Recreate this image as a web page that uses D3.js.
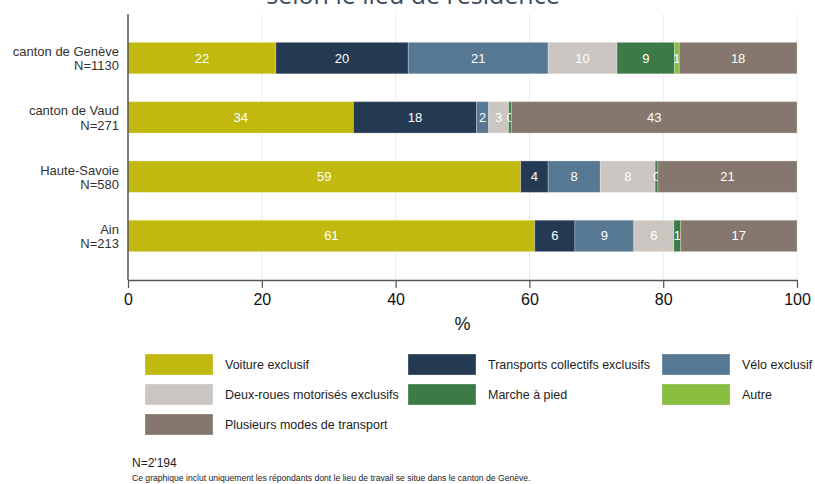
<!DOCTYPE html>
<html>
<head>
<meta charset="utf-8">
<script src="https://cdn.jsdelivr.net/npm/d3@7"></script>
<style>
  html, body { margin: 0; padding: 0; background: #fff; }
  svg { display: block; font-family: "Liberation Sans", Arial, sans-serif; }
</style>
</head>
<body>
<svg id="chart" width="815" height="484"></svg>
<script>
// Lieu de résidence (catégories) et effectifs
const regions = ["canton de Genève", "canton de Vaud", "Haute-Savoie", "Ain"];
const effectifs = ["N=1130", "N=271", "N=580", "N=213"];

// Modes de transport (séries, dans l'ordre d'empilement)
const modes = [
  "Voiture exclusif",
  "Transports collectifs exclusifs",
  "Vélo exclusif",
  "Deux-roues motorisés exclusifs",
  "Marche à pied",
  "Autre",
  "Plusieurs modes de transport"
];
const couleurs = ["#c1b90e", "#243a52", "#567893", "#cbc6c2", "#3c7a47", "#88bd40", "#85776d"];

// Parts en % par lieu de résidence, une liste par mode
const voiture     = [22.1, 33.7, 58.7, 60.8];
const collectifs  = [19.8, 18.4,  4.1,  6.0];
const velo        = [20.9,  1.8,  7.8,  8.8];
const deuxRoues   = [10.3,  3.0,  8.2,  6.0];
const marche      = [ 8.6,  0.4,  0.4,  1.0];
const autre       = [ 0.7,  0.0,  0.0,  0.0];
const plusieurs   = [17.6, 42.7, 20.8, 17.4];

const xTicks = [0, 20, 40, 60, 80, 100];

const seriesValues = [voiture, collectifs, velo, deuxRoues, marche, autre, plusieurs];

const rows = regions.map((r, i) => {
  const o = { region: r };
  modes.forEach((m, k) => { o[m] = seriesValues[k][i]; });
  return o;
});

const svg = d3.select("#chart");

const x = d3.scaleLinear().domain([0, 100]).range([128, 797]);
const y = d3.scaleBand().domain(regions).range([14, 280])
  .paddingInner(0.47).paddingOuter(0.478);
const color = d3.scaleOrdinal().domain(modes).range(couleurs);

// Titre (partie basse visible en haut du cadre)
svg.append("text")
  .attr("x", 413).attr("y", 4)
  .attr("text-anchor", "middle")
  .attr("font-family", "'Open Sans', sans-serif")
  .attr("font-size", 25)
  .attr("fill", "#3c4a5d")
  .text("selon le lieu de résidence");

// Quadrillage vertical
svg.append("g")
  .selectAll("line")
  .data(xTicks.filter(d => d > 0))
  .join("line")
  .attr("x1", d => x(d)).attr("x2", d => x(d))
  .attr("y1", 14).attr("y2", 280)
  .attr("stroke", "#e6eef1")
  .attr("stroke-width", 1);

// Barres empilées
const stack = d3.stack().keys(modes);
const layers = stack(rows);

const layerG = svg.append("g")
  .selectAll("g")
  .data(layers)
  .join("g")
  .attr("fill", d => color(d.key));

layerG.selectAll("rect")
  .data(d => d.map(s => ({ s, key: d.key })).filter(e => e.s[1] - e.s[0] > 0))
  .join("rect")
  .attr("x", d => x(d.s[0]))
  .attr("y", d => y(d.s.data.region))
  .attr("width", d => x(d.s[1]) - x(d.s[0]))
  .attr("height", y.bandwidth())
  .attr("stroke", "#ffffff")
  .attr("stroke-opacity", 0.25)
  .attr("stroke-width", 1);

// Étiquettes des valeurs
const fmt = d3.format(".0f");
layerG.selectAll("text")
  .data(d => d.map(s => ({ s, key: d.key })).filter(e => e.s[1] - e.s[0] > 0))
  .join("text")
  .attr("x", d => (x(d.s[0]) + x(d.s[1])) / 2)
  .attr("y", d => y(d.s.data.region) + y.bandwidth() / 2)
  .attr("dy", "0.35em")
  .attr("text-anchor", "middle")
  .attr("font-size", 13)
  .attr("fill", "#ffffff")
  .text(d => fmt(d.s[1] - d.s[0]));

// Axe X
const xAxis = svg.append("g")
  .attr("transform", "translate(0,280)")
  .call(d3.axisBottom(x).tickValues(xTicks).tickSize(8).tickPadding(6).tickSizeOuter(0));
xAxis.select(".domain").attr("stroke", "#555").attr("stroke-width", 1.5);
xAxis.selectAll(".tick line").attr("stroke", "#555").attr("stroke-width", 1.2);
xAxis.selectAll(".tick text")
  .attr("font-family", "'Liberation Sans', Arial, sans-serif")
  .attr("font-size", 16).attr("fill", "#111");

svg.append("text")
  .attr("x", x(50)).attr("y", 330)
  .attr("text-anchor", "middle")
  .attr("font-size", 18).attr("fill", "#111")
  .text("%");

// Axe Y (ligne et libellés)
svg.append("line")
  .attr("x1", 128).attr("x2", 128)
  .attr("y1", 14).attr("y2", 280)
  .attr("stroke", "#555").attr("stroke-width", 1.5);

const yLab = svg.append("g")
  .selectAll("text")
  .data(regions)
  .join("text")
  .attr("x", 119)
  .attr("y", d => y(d) + y.bandwidth() / 2)
  .attr("text-anchor", "end")
  .attr("font-size", 13)
  .attr("fill", "#333");
yLab.append("tspan").attr("x", 119).attr("dy", "-0.15em").text(d => d);
yLab.append("tspan").attr("x", 119).attr("dy", "1.1em").text((d, i) => effectifs[i]);

// Légende
const legPos = [
  [145, 354], [408, 354], [662, 354],
  [145, 384], [408, 384], [662, 384],
  [145, 414]
];
const leg = svg.append("g")
  .selectAll("g")
  .data(modes)
  .join("g")
  .attr("transform", (d, i) => `translate(${legPos[i][0]},${legPos[i][1]})`);
leg.append("rect")
  .attr("width", 68).attr("height", 21)
  .attr("fill", d => color(d))
  .attr("stroke", "#ffffff").attr("stroke-opacity", 0.3);
leg.append("text")
  .attr("x", 80).attr("y", 11).attr("dy", "0.35em")
  .attr("font-size", 12.5).attr("fill", "#222")
  .text(d => d);

// Notes
svg.append("text")
  .attr("x", 132).attr("y", 467)
  .attr("font-size", 12).attr("fill", "#222")
  .text("N=2'194");
svg.append("text")
  .attr("x", 132).attr("y", 481)
  .attr("font-size", 8.6).attr("fill", "#222")
  .text("Ce graphique inclut uniquement les répondants dont le lieu de travail se situe dans le canton de Genève.");
</script>
</body>
</html>
